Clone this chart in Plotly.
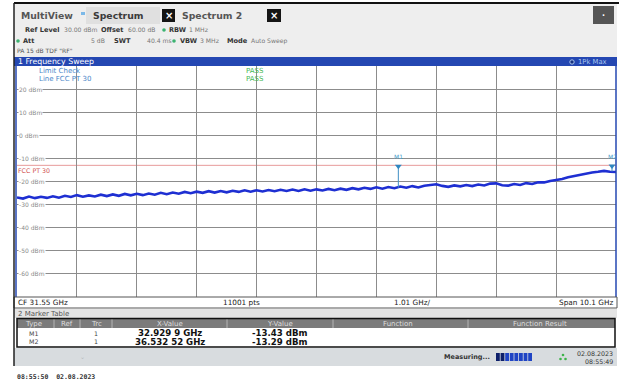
import plotly.graph_objects as go
import numpy as np

# ---------------- data ----------------
f_start, f_stop = 26.5, 36.6          # GHz
ref_level, bottom_level = 30, -70     # dBm
limit_level = -13.0                   # FCC PT 30 limit line (dBm)
grid_levels = [20, 10, 0, -10, -20, -30, -40, -50, -60]
grid_labels = ["20 dBm", "10 dBm", "0 dBm", "-10 dBm", "-20 dBm", "-30 dBm",
               "-40 dBm", "-50 dBm", "-60 dBm"]

trace_dbm = [
    -26.9, -27.4, -26.5, -27.2, -26.6, -27.1, -26.4, -27.0, -26.2, -26.7,
    -25.9, -26.6, -26.0, -26.5, -25.7, -26.3, -25.6, -26.2, -25.4, -26.0,
    -25.3, -25.9, -25.2, -25.7, -24.9, -25.5, -24.8, -25.3, -24.5, -25.1,
    -24.4, -24.9, -24.2, -24.8, -24.1, -24.7, -24.0, -24.5, -23.8, -24.4,
    -23.8, -24.3, -23.7, -24.2, -23.6, -24.1, -23.5, -24.1, -23.4, -24.0,
    -23.4, -23.9, -23.2, -23.8, -23.1, -23.6, -22.9, -23.4, -22.7, -23.2,
    -22.5, -23.1, -22.4, -22.9, -22.2, -22.7, -22.0, -22.6, -21.8, -21.5,
    -21.2, -21.9, -22.3, -21.7, -22.1, -21.5, -22.0, -21.3, -21.7, -20.9,
    -20.8, -21.6, -21.8, -21.1, -21.5, -20.7, -21.1, -20.3, -20.4, -19.8,
    -19.5, -18.9, -18.2, -17.6, -17.0, -16.6, -16.1, -15.8, -15.4, -15.8,
    -15.9,
]
trace_freq = np.linspace(f_start, f_stop, len(trace_dbm))

marker_names = ["M1", "M2"]
marker_freq = [32.9299, 36.53252]          # GHz
marker_dbm = [-13.43, -13.29]
marker_base = [-22.7, -15.7]               # trace level under each marker
marker_xtext = ["32.929 9 GHz", "36.532 52 GHz"]
marker_ytext = ["-13.43 dBm", "-13.29 dBm"]

# ---------------- layout helpers ----------------
W, H = 619, 381
FONT = "DejaVu Sans"
shapes, ann = [], []

def X(px): return px / W
def Y(py): return 1 - py / H

def txt(x, y, s, size=7, color="#333", bold=False, anchor="left", family=FONT, bg=None):
    ann.append(dict(xref="paper", yref="paper", x=X(x), y=Y(y),
                    text=("<b>%s</b>" % s if bold else s), showarrow=False,
                    xanchor=anchor, yanchor="middle", borderpad=0,
                    font=dict(size=size, color=color, family=family),
                    bgcolor=bg))

def rect(x0, y0, x1, y1, fill, line=None, lw=0):
    shapes.append(dict(type="rect", xref="paper", yref="paper",
                       x0=X(x0), x1=X(x1), y0=Y(y1), y1=Y(y0),
                       fillcolor=fill, line=dict(color=line or fill, width=lw),
                       layer="above"))

def seg(x0, y0, x1, y1, color, w=1):
    shapes.append(dict(type="line", xref="paper", yref="paper",
                       x0=X(x0), x1=X(x1), y0=Y(y0), y1=Y(y1),
                       line=dict(color=color, width=w), layer="above"))

def dot(x, y, r, color, line=None):
    shapes.append(dict(type="circle", xref="paper", yref="paper",
                       x0=X(x - r), x1=X(x + r), y0=Y(y + r), y1=Y(y - r),
                       fillcolor=color, line=dict(color=line or color, width=1 if line else 0),
                       layer="above"))

# ---------------- header ----------------
rect(14, 3, 617, 57, "#eeeeee")
rect(86, 7, 160, 24, "#e0e0e0")
txt(20, 15.5, "MultiView", 9.3, "#555", True)
rect(81, 12, 85, 15, "#7cb9e8")
txt(92, 15.5, "Spectrum", 9.3, "#3a3a3a", True)
rect(162, 9, 175, 22, "#151515")
txt(168.5, 15.5, "×", 10, "white", True, "center")
txt(181, 15.5, "Spectrum 2", 9.3, "#555", True)
rect(267, 9, 281, 22, "#151515")
txt(274, 15.5, "×", 10, "white", True, "center")
rect(593, 6, 614, 24, "#555555")
txt(603.5, 15, "·", 8, "white", True, "center")

VS = 6.1
txt(24, 30, "Ref Level", 6.6, "#333", True)
txt(63, 30, "30.00 dBm", VS, "#777")
txt(100, 30, "Offset", 6.6, "#333", True)
txt(127, 30, "60.00 dB", VS, "#777")
dot(164, 30, 1.8, "#3cb371")
txt(168, 30, "RBW", 6.6, "#333", True)
txt(188, 30, "1 MHz", VS, "#777")

dot(18, 41, 1.8, "#3cb371")
txt(22, 41, "Att", 6.6, "#333", True)
txt(90, 41, "5 dB", VS, "#777")
txt(113, 41, "SWT", 6.6, "#333", True)
txt(146, 41, "40.4 ms", VS, "#777")
dot(174, 41, 1.8, "#3cb371")
txt(179, 41, "VBW", 6.6, "#333", True)
txt(199, 41, "3 MHz", VS, "#777")
txt(226, 41, "Mode", 6.6, "#333", True)
txt(250, 41, "Auto Sweep", VS, "#777")
txt(16, 51, "PA 15 dB TDF \"RF\"", 6.0, "#555")

# ---------------- sweep title bar ----------------
rect(14, 57, 617, 66, "#2447b2")
txt(17, 61.8, "1 Frequency Sweep", 7.8, "white")
dot(572, 62, 2.2, "#16307f", "#a9c6ee")
txt(577, 62, "1Pk Max", 6.8, "#a9c6ee")

# plot frame
seg(16, 66, 16, 297, "#2447b2", 1.5)
seg(616, 66, 616, 297, "#2447b2", 1.5)

# plot inner texts
txt(38, 71.5, "Limit Check", 7, "#4a86c8")
txt(38, 79.5, "Line FCC PT 30", 7, "#4a86c8")
txt(245, 71.5, "PASS", 7, "#45b854")
txt(245, 79.5, "PASS", 7, "#45b854")

for lv, lb in zip(grid_levels, grid_labels):
    ann.append(dict(xref="paper", yref="y", x=X(18), y=lv, text=lb, showarrow=False,
                    xanchor="left", yanchor="middle", borderpad=0, bgcolor="white",
                    font=dict(size=6, color="#8a8a8a", family=FONT)))

ann.append(dict(xref="paper", yref="y", x=X(16.5), y=limit_level, text="FCC PT 30",
                showarrow=False, xanchor="left", yanchor="top", yshift=-1, borderpad=0,
                font=dict(size=6.3, color="#d05050", family=FONT)))

for n, fq, v in zip(marker_names, marker_freq, marker_dbm):
    ann.append(dict(xref="x", yref="y", x=fq, y=v, text=n, showarrow=False,
                    xanchor="center", yanchor="bottom", yshift=5, borderpad=0,
                    font=dict(size=6, color="#4aa0cc", family=FONT)))

# limit line
shapes.append(dict(type="line", xref="x", yref="y", x0=f_start, x1=f_stop,
                   y0=limit_level, y1=limit_level,
                   line=dict(color="#e79a9a", width=1), layer="below"))

# ---------------- bottom info bar ----------------
rect(14, 297, 617, 308, "white", "#555", 1)
txt(17, 302.5, "CF 31.55 GHz", 7.3, "#222")
txt(241, 302.5, "11001 pts", 7.3, "#222", anchor="center")
txt(413, 302.5, "1.01 GHz/", 7.3, "#222", anchor="center")
txt(614, 302.5, "Span 10.1 GHz", 7.3, "#222", anchor="right")

# ---------------- marker table ----------------
rect(14, 309, 617, 318, "#e4e4e4")
txt(17, 313.8, "2 Marker Table", 7, "#555")
rect(17, 318.5, 615, 328, "#7b7b7b")
for sx in [54, 80, 112, 227, 333, 468]:
    seg(sx, 318.5, sx, 328, "#b5b5b5", 1)
rect(17, 318.5, 615, 347, "rgba(0,0,0,0)", "#111", 1.5)
hdr = [("Type", 33), ("Ref", 67), ("Trc", 96), ("X-Value", 170), ("Y-Value", 280),
       ("Function", 398), ("Function Result", 540)]
for s, cx in hdr:
    txt(cx, 323.5, s, 7, "#dedede", anchor="center")
for i, (n, xs, ys) in enumerate(zip(marker_names, marker_xtext, marker_ytext)):
    yy = 333 + i * 8.5
    txt(33, yy, n, 6.3, "#444", anchor="center")
    txt(96, yy, "1", 6.3, "#444", anchor="center")
    txt(170, yy, xs, 8.6, "#111", True, "center")
    txt(279, yy, ys, 8.6, "#111", True, "center")

# ---------------- status bar ----------------
rect(14, 348, 617, 366, "#d8dcdf")
txt(82, 356, "⌄", 6, "#b5b9bc", anchor="center")
txt(467, 357, "Measuring...", 6.5, "#333", True, "center")
for k in range(8):
    col = "#0d1f6a" if k < 2 else "#1f44c4"
    rect(496 + k * 4.6, 353, 496 + k * 4.6 + 3.8, 361, col)
dot(563, 355, 1.3, "#3cb34a")
dot(560.5, 359, 1.3, "#3cb34a")
dot(565.5, 359, 1.3, "#3cb34a")
txt(614, 353, "02.08.2023", 6.3, "#333", anchor="right")
txt(614, 361.5, "08:55:49", 6.3, "#333", anchor="right")

txt(16, 377, "08:55:50  02.08.2023", 6.5, "#333", True, family="DejaVu Sans Mono")

# outer frame
seg(14, 3, 619, 3, "#111", 2)
seg(14, 3, 14, 366, "#222", 1.5)

# ---------------- traces ----------------
fig = go.Figure()
fig.add_trace(go.Scatter(x=trace_freq, y=trace_dbm, mode="lines",
                         line=dict(color="#1e2fd2", width=2.6), hoverinfo="skip"))
for fq, b, v in zip(marker_freq, marker_base, marker_dbm):
    fig.add_trace(go.Scatter(x=[fq, fq], y=[b, v], mode="lines",
                             line=dict(color="#3f8fc4", width=1), hoverinfo="skip"))
fig.add_trace(go.Scatter(x=marker_freq, y=marker_dbm, mode="markers",
                         marker=dict(symbol="triangle-down", size=6, color="#2f86c0"),
                         hoverinfo="skip", cliponaxis=False))

fig.update_layout(
    width=W, height=H, margin=dict(l=0, r=0, t=0, b=0),
    paper_bgcolor="white", plot_bgcolor="white", showlegend=False,
    shapes=shapes, annotations=ann,
    xaxis=dict(domain=[X(17), X(616)], range=[f_start, f_stop], tick0=f_start, dtick=1.01,
               showticklabels=False, ticks="", showgrid=True, gridcolor="#8c8c8c",
               gridwidth=1, zeroline=False, showline=False, fixedrange=True),
    yaxis=dict(domain=[Y(297), Y(66)], range=[bottom_level, ref_level], dtick=10,
               showticklabels=False, ticks="", showgrid=True, gridcolor="#8c8c8c",
               gridwidth=1, zeroline=False, showline=False, fixedrange=True),
)
fig.write_html("out.html", config={"displayModeBar": False},
               post_script="document.body.style.margin='0';document.body.style.overflow='hidden';")
